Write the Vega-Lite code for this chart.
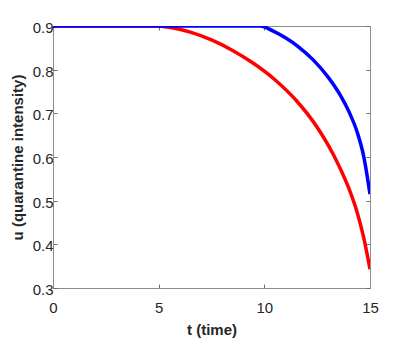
{
  "$schema": "https://vega.github.io/schema/vega-lite/v6.json",
  "width": 317,
  "height": 262,
  "autosize": {"type": "none"},
  "padding": {"left": 53, "top": 26, "right": 39, "bottom": 66},
  "background": "white",
  "config": {
    "view": {"stroke": "#8c8c8c", "strokeWidth": 1},
    "axis": {
      "domainColor": "#8c8c8c",
      "tickColor": "#6e6e6e",
      "tickWidth": 1,
      "grid": false,
      "labelFlush": false,
      "labelOverlap": false,
      "labelFont": "Liberation Sans",
      "labelFontSize": 15,
      "labelColor": "#262626",
      "titleFont": "Liberation Sans",
      "titleFontSize": 15,
      "titleFontWeight": "bold",
      "titleColor": "#262626",
      "tickSize": -4
    }
  },
  "data": {
    "values": [
      {"t": 0, "u": 0.9, "s": "red"},
      {"t": 4.75, "u": 0.9, "s": "red"},
      {"t": 5.5, "u": 0.897, "s": "red"},
      {"t": 6.5, "u": 0.886, "s": "red"},
      {"t": 7.5, "u": 0.868, "s": "red"},
      {"t": 8.5, "u": 0.844, "s": "red"},
      {"t": 9.5, "u": 0.814, "s": "red"},
      {"t": 10.5, "u": 0.777, "s": "red"},
      {"t": 11.5, "u": 0.73, "s": "red"},
      {"t": 12.5, "u": 0.668, "s": "red"},
      {"t": 13.5, "u": 0.583, "s": "red"},
      {"t": 14.0, "u": 0.528, "s": "red"},
      {"t": 14.4, "u": 0.472, "s": "red"},
      {"t": 14.7, "u": 0.416, "s": "red"},
      {"t": 15.0, "u": 0.343, "s": "red"},
      {"t": 0, "u": 0.9, "s": "blue"},
      {"t": 9.8, "u": 0.9, "s": "blue"},
      {"t": 10.4, "u": 0.889, "s": "blue"},
      {"t": 11.0, "u": 0.873, "s": "blue"},
      {"t": 11.6, "u": 0.853, "s": "blue"},
      {"t": 12.3, "u": 0.823, "s": "blue"},
      {"t": 13.0, "u": 0.784, "s": "blue"},
      {"t": 13.6, "u": 0.741, "s": "blue"},
      {"t": 14.0, "u": 0.704, "s": "blue"},
      {"t": 14.4, "u": 0.656, "s": "blue"},
      {"t": 14.7, "u": 0.602, "s": "blue"},
      {"t": 15.0, "u": 0.515, "s": "blue"}
    ]
  },
  "layer": [
    {
      "transform": [{"filter": "datum.s === 'red'"}],
      "mark": {"type": "line", "color": "#ff0000", "strokeWidth": 3.5, "interpolate": "monotone", "clip": true},
      "encoding": {
        "x": {"field": "t", "type": "quantitative", "scale": {"domain": [0, 15], "nice": false, "zero": false},
              "axis": {"orient": "bottom", "values": [0, 5, 10, 15], "title": "t (time)", "labelPadding": 16, "titlePadding": 7}},
        "y": {"field": "u", "type": "quantitative", "scale": {"domain": [0.3, 0.9], "nice": false, "zero": false},
              "axis": {"orient": "left", "values": [0.3, 0.4, 0.5, 0.6, 0.7, 0.8, 0.9], "format": ".1f", "title": "u (quarantine intensity)", "labelPadding": 4, "labelOffset": 1.5, "titlePadding": 7}}
      }
    },
    {
      "transform": [{"filter": "datum.s === 'blue'"}],
      "mark": {"type": "line", "color": "#0000ff", "strokeWidth": 3.5, "interpolate": "monotone", "clip": true},
      "encoding": {
        "x": {"field": "t", "type": "quantitative", "scale": {"domain": [0, 15], "nice": false, "zero": false},
              "axis": {"orient": "top", "values": [0, 5, 10, 15], "labels": false, "title": null}},
        "y": {"field": "u", "type": "quantitative", "scale": {"domain": [0.3, 0.9], "nice": false, "zero": false},
              "axis": {"orient": "right", "values": [0.3, 0.4, 0.5, 0.6, 0.7, 0.8, 0.9], "labels": false, "title": null}}
      }
    }
  ],
  "resolve": {"axis": {"x": "independent", "y": "independent"}}
}
